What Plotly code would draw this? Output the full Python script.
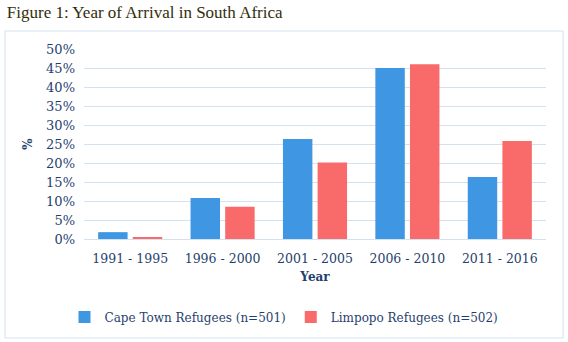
import plotly.graph_objects as go

categories = ["1991 - 1995", "1996 - 2000", "2001 - 2005", "2006 - 2010", "2011 - 2016"]
cape_town = [1.8, 10.8, 26.3, 45.0, 16.3]
limpopo = [0.3, 8.5, 20.1, 46.0, 25.8]
series_names = ["Cape Town Refugees (n=501)", "Limpopo Refugees (n=502)"]
y_ticks = [0, 5, 10, 15, 20, 25, 30, 35, 40, 45, 50]
y_tick_labels = [f"{v}%" for v in y_ticks]

FONT = "DejaVu Serif"
NAVY = "#1F3F6E"

fig = go.Figure()
fig.add_trace(go.Bar(x=categories, y=cape_town, name=series_names[0],
                     marker=dict(color="#3F97E4", line=dict(width=0))))
fig.add_trace(go.Bar(x=categories, y=limpopo, name=series_names[1],
                     marker=dict(color="#F96A6A", line=dict(width=0))))

fig.update_layout(
    width=568, height=342,
    margin=dict(l=84, r=22, t=49, b=103, autoexpand=False),
    paper_bgcolor="white", plot_bgcolor="white",
    barmode="group", bargap=0.25, bargroupgap=0.15,
    title=dict(text="Figure 1: Year of Arrival in South Africa",
               x=0.012, xanchor="left", y=0.965, yanchor="middle",
               font=dict(family="Liberation Serif", size=17, color="#332E0C")),
    font=dict(family=FONT, size=12.5, color=NAVY),
    showlegend=True,
    legend=dict(orientation="h", xref="container", yref="container",
                x=0.5, xanchor="center", y=0.073, yanchor="middle",
                font=dict(family=FONT, size=12, color=NAVY),
                itemwidth=30, tracegroupgap=0, bgcolor="rgba(0,0,0,0)"),
    xaxis=dict(title=dict(text="<b>Year</b>", font=dict(family=FONT, size=12, color=NAVY), standoff=8),
               showgrid=False, showline=False, ticks="", ticklabelstandoff=10,
               tickfont=dict(family=FONT, size=12.5, color=NAVY)),
    yaxis=dict(title=dict(text="<b>%</b>", font=dict(family=FONT, size=12, color=NAVY), standoff=10),
               range=[0, 50], tickvals=y_ticks, ticktext=y_tick_labels,
               showgrid=True, gridcolor="#D3E2F2", gridwidth=1,
               zeroline=True, zerolinecolor="#D3E2F2", zerolinewidth=1,
               showline=False, ticks="", ticklabelstandoff=8,
               tickfont=dict(family=FONT, size=13, color=NAVY)),
    shapes=[dict(type="rect", xref="paper", yref="paper",
                 x0=-0.171, x1=1.037, y0=-0.521, y1=1.0947,
                 line=dict(color="#D3E2F2", width=1), fillcolor="rgba(0,0,0,0)", layer="below")],
)

fig.write_html("out.html", config={"displayModeBar": False},
               post_script="document.body.style.margin='0';document.body.style.overflow='hidden';")
